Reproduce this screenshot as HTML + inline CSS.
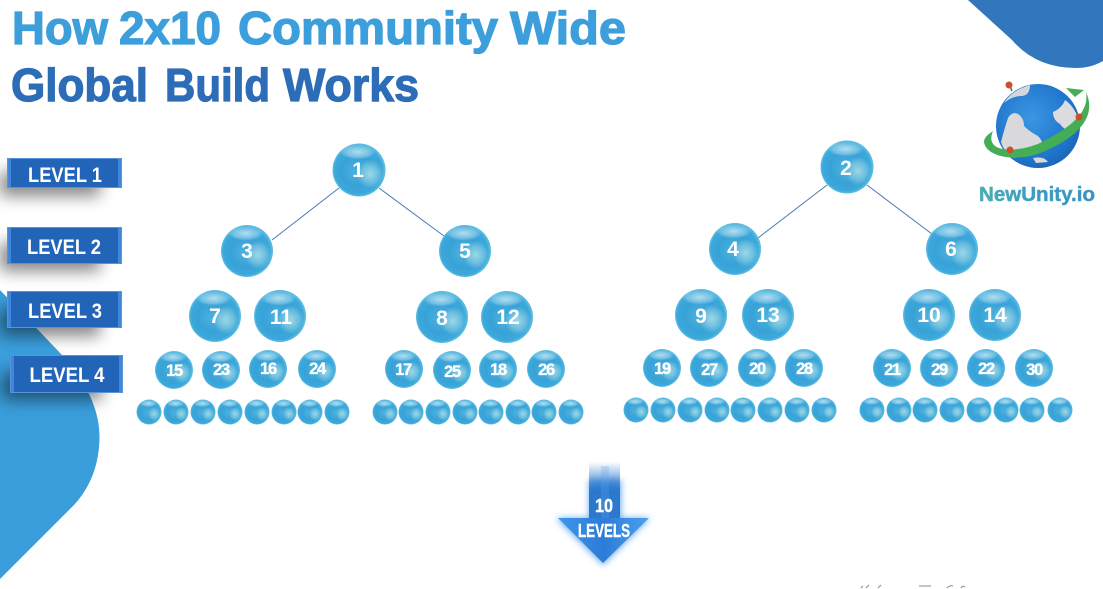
<!DOCTYPE html>
<html><head><meta charset="utf-8"><style>
html,body{margin:0;padding:0;background:#fff;width:1103px;height:589px;overflow:hidden}
svg{display:block}
text{font-family:"Liberation Sans",sans-serif}
.n{fill:#fff;font-weight:bold;text-anchor:middle}
.b{font-size:21px}.m{font-size:16.500px;letter-spacing:-1.300px;stroke:#fff;stroke-width:.3px}
.l{fill:#fff;font-weight:bold;font-size:21px;text-anchor:middle}
.t{font-size:46px;font-weight:bold;stroke-width:1.200px}
.t1{fill:#3c9fdc;stroke:#3c9fdc}.t2{fill:#2d6db8;stroke:#2d6db8}
</style></head><body>
<svg width="1103" height="589" viewBox="0 0 1103 589" xmlns="http://www.w3.org/2000/svg">
<defs>
<radialGradient id="s" cx=".5" cy=".5" r=".52" fx=".42" fy=".55">
<stop offset="0" stop-color="#4bb0de"/><stop offset=".55" stop-color="#38a2d7"/><stop offset=".86" stop-color="#3ba8da"/><stop offset=".95" stop-color="#5fbde3"/><stop offset="1" stop-color="#3397cc"/></radialGradient>
<radialGradient id="t" cx=".5" cy=".5" r=".5"><stop offset="0" stop-color="#d8f1f7" stop-opacity=".75"/><stop offset=".7" stop-color="#d8f1f7" stop-opacity=".35"/><stop offset="1" stop-color="#d8f1f7" stop-opacity="0"/></radialGradient>
<radialGradient id="h" cx=".5" cy=".5" r=".5"><stop offset="0" stop-color="#a8dde7" stop-opacity=".9"/><stop offset=".6" stop-color="#a8dde7" stop-opacity=".45"/><stop offset="1" stop-color="#a8dde7" stop-opacity="0"/></radialGradient>
<g id="ball"><circle r="1" fill="url(#s)"/><ellipse cx=".42" cy=".15" rx=".5" ry=".55" fill="url(#h)"/><ellipse cx="-.05" cy="-.68" rx=".68" ry=".28" fill="url(#t)"/></g>
<filter id="bl" x="-30%" y="-60%" width="160%" height="220%"><feGaussianBlur stdDeviation="8"/></filter>
<filter id="b2" x="-50%" y="-20%" width="200%" height="140%"><feGaussianBlur stdDeviation="3.500"/></filter>
<linearGradient id="sh" x1="0" y1="0" x2="0" y2="1"><stop offset="0" stop-color="#2c78cd" stop-opacity="0"/><stop offset=".5" stop-color="#2c78cd"/><stop offset="1" stop-color="#2c78cd"/></linearGradient>
<linearGradient id="ah" x1="0" y1="0" x2="1" y2="0"><stop offset="0" stop-color="#3e98ea"/><stop offset=".5" stop-color="#2c7cd8"/><stop offset="1" stop-color="#4ba2ec"/></linearGradient>
<radialGradient id="gl" cx=".42" cy=".4" r=".7"><stop offset="0" stop-color="#3b96e2"/><stop offset=".7" stop-color="#1f74cc"/><stop offset="1" stop-color="#1a5fb0"/></radialGradient>
<linearGradient id="lg" x1="0" y1="0" x2="1" y2="0"><stop offset="0" stop-color="#48b2a9"/><stop offset=".5" stop-color="#3b9bc9"/><stop offset="1" stop-color="#3a8fc8"/></linearGradient>
</defs>

<!-- background shapes -->
<path d="M0 290 L62 355 Q99 396 99.500 436 Q99.500 477 74 505 L0 579 Z" fill="#3a9edb"/>
<path d="M968 0 L1012 40 Q1036 68 1076 68 Q1091 68 1103 61 L1103 0 Z" fill="#3277bd"/>

<!-- title -->
<g class="t">
<text class="t t1" x="12" y="44" textLength="96" lengthAdjust="spacingAndGlyphs">How</text>
<text class="t t1" x="119" y="44" textLength="102" lengthAdjust="spacingAndGlyphs">2x10</text>
<text class="t t1" x="238" y="44" textLength="260" lengthAdjust="spacingAndGlyphs">Community</text>
<text class="t t1" x="510" y="44" textLength="116" lengthAdjust="spacingAndGlyphs">Wide</text>
<text class="t t2" x="11" y="101" textLength="137" lengthAdjust="spacingAndGlyphs">Global</text>
<text class="t t2" x="165" y="101" textLength="105" lengthAdjust="spacingAndGlyphs">Build</text>
<text class="t t2" x="283" y="101" textLength="136" lengthAdjust="spacingAndGlyphs">Works</text>
</g>

<!-- level shadows -->
<g fill="#000" opacity=".48" filter="url(#bl)">
<rect x="0" y="172" width="100" height="24"/>
<rect x="0" y="243" width="100" height="28"/>
<rect x="0" y="308" width="100" height="28"/>
<rect x="2" y="372" width="100" height="28"/>
</g>

<!-- level labels -->
<g fill="#2264b8" stroke="#5a93d6" stroke-width="1">
<rect x="7.500" y="158.500" width="114" height="29"/>
<rect x="7.500" y="227.500" width="114" height="36"/>
<rect x="7.500" y="291.500" width="114" height="36"/>
<rect x="10.500" y="355.500" width="112" height="37"/>
</g>
<g fill="#3f86dc">
<rect x="8" y="159" width="3" height="28"/><rect x="118" y="159" width="3" height="28"/>
<rect x="8" y="228" width="3" height="35"/><rect x="118" y="228" width="3" height="35"/>
<rect x="8" y="292" width="3" height="35"/><rect x="118" y="292" width="3" height="35"/>
<rect x="11" y="356" width="3" height="36"/><rect x="119" y="356" width="3" height="36"/>
</g>
<text class="l" x="65" y="182" textLength="74" lengthAdjust="spacingAndGlyphs">LEVEL 1</text>
<text class="l" x="64" y="254" textLength="74" lengthAdjust="spacingAndGlyphs">LEVEL 2</text>
<text class="l" x="65" y="318" textLength="74" lengthAdjust="spacingAndGlyphs">LEVEL 3</text>
<text class="l" x="67" y="382" textLength="75" lengthAdjust="spacingAndGlyphs">LEVEL 4</text>

<!-- connectors -->
<g stroke="#4a78b8" stroke-width="1" fill="none">
<line x1="339" y1="188" x2="272" y2="240"/>
<line x1="379" y1="188" x2="444" y2="236"/>
<line x1="827" y1="185" x2="758" y2="238"/>
<line x1="867" y1="185" x2="932" y2="234"/>
</g>

<!-- big spheres -->
<use href="#ball" transform="translate(359 170) scale(26.500)"/>
<use href="#ball" transform="translate(847 167) scale(26.500)"/>
<use href="#ball" transform="translate(247 251) scale(26)"/>
<use href="#ball" transform="translate(465 251) scale(26)"/>
<use href="#ball" transform="translate(735 249) scale(26)"/>
<use href="#ball" transform="translate(952 249) scale(26)"/>
<use href="#ball" transform="translate(215 316) scale(26)"/>
<use href="#ball" transform="translate(280 316) scale(26)"/>
<use href="#ball" transform="translate(442 317) scale(26)"/>
<use href="#ball" transform="translate(507 317) scale(26)"/>
<use href="#ball" transform="translate(701 315) scale(26)"/>
<use href="#ball" transform="translate(768 315) scale(26)"/>
<use href="#ball" transform="translate(929 315) scale(26)"/>
<use href="#ball" transform="translate(995 315) scale(26)"/>

<!-- medium spheres -->
<use href="#ball" transform="translate(174 370) scale(19)"/>
<use href="#ball" transform="translate(221 370) scale(19)"/>
<use href="#ball" transform="translate(268 369) scale(19)"/>
<use href="#ball" transform="translate(317 369) scale(19)"/>
<use href="#ball" transform="translate(404 369) scale(19)"/>
<use href="#ball" transform="translate(452 370) scale(19)"/>
<use href="#ball" transform="translate(498 369) scale(19)"/>
<use href="#ball" transform="translate(546 369) scale(19)"/>
<use href="#ball" transform="translate(662 368) scale(19)"/>
<use href="#ball" transform="translate(709 368) scale(19)"/>
<use href="#ball" transform="translate(757 368) scale(19)"/>
<use href="#ball" transform="translate(804 368) scale(19)"/>
<use href="#ball" transform="translate(892 368) scale(19)"/>
<use href="#ball" transform="translate(939 368) scale(19)"/>
<use href="#ball" transform="translate(986 368) scale(19)"/>
<use href="#ball" transform="translate(1034 368) scale(19)"/>

<!-- small spheres -->
<use href="#ball" transform="translate(149 412) scale(12.500)"/>
<use href="#ball" transform="translate(176 412) scale(12.500)"/>
<use href="#ball" transform="translate(203 412) scale(12.500)"/>
<use href="#ball" transform="translate(230 412) scale(12.500)"/>
<use href="#ball" transform="translate(257 412) scale(12.500)"/>
<use href="#ball" transform="translate(284 412) scale(12.500)"/>
<use href="#ball" transform="translate(310 412) scale(12.500)"/>
<use href="#ball" transform="translate(337 412) scale(12.500)"/>
<use href="#ball" transform="translate(385 412) scale(12.500)"/>
<use href="#ball" transform="translate(411 412) scale(12.500)"/>
<use href="#ball" transform="translate(438 412) scale(12.500)"/>
<use href="#ball" transform="translate(465 412) scale(12.500)"/>
<use href="#ball" transform="translate(491 412) scale(12.500)"/>
<use href="#ball" transform="translate(518 412) scale(12.500)"/>
<use href="#ball" transform="translate(544 412) scale(12.500)"/>
<use href="#ball" transform="translate(571 412) scale(12.500)"/>
<use href="#ball" transform="translate(636 410) scale(12.500)"/>
<use href="#ball" transform="translate(663 410) scale(12.500)"/>
<use href="#ball" transform="translate(690 410) scale(12.500)"/>
<use href="#ball" transform="translate(717 410) scale(12.500)"/>
<use href="#ball" transform="translate(743 410) scale(12.500)"/>
<use href="#ball" transform="translate(770 410) scale(12.500)"/>
<use href="#ball" transform="translate(797 410) scale(12.500)"/>
<use href="#ball" transform="translate(824 410) scale(12.500)"/>
<use href="#ball" transform="translate(872 410) scale(12.500)"/>
<use href="#ball" transform="translate(899 410) scale(12.500)"/>
<use href="#ball" transform="translate(925 410) scale(12.500)"/>
<use href="#ball" transform="translate(952 410) scale(12.500)"/>
<use href="#ball" transform="translate(979 410) scale(12.500)"/>
<use href="#ball" transform="translate(1006 410) scale(12.500)"/>
<use href="#ball" transform="translate(1032 410) scale(12.500)"/>
<use href="#ball" transform="translate(1060 410) scale(12.500)"/>

<!-- big labels -->
<text class="n b" x="358" y="177">1</text>
<text class="n b" x="846" y="175">2</text>
<text class="n b" x="247" y="258">3</text>
<text class="n b" x="465" y="258">5</text>
<text class="n b" x="733" y="256">4</text>
<text class="n b" x="951" y="256">6</text>
<text class="n b" x="215" y="323">7</text>
<text class="n b" x="281" y="324">11</text>
<text class="n b" x="442" y="325">8</text>
<text class="n b" x="508" y="324">12</text>
<text class="n b" x="701" y="323">9</text>
<text class="n b" x="768" y="322">13</text>
<text class="n b" x="929" y="322">10</text>
<text class="n b" x="995" y="322">14</text>
<!-- medium labels -->
<text class="n m" x="174" y="376">15</text>
<text class="n m" x="221" y="375">23</text>
<text class="n m" x="268" y="374">16</text>
<text class="n m" x="317" y="374">24</text>
<text class="n m" x="403" y="375">17</text>
<text class="n m" x="452" y="377">25</text>
<text class="n m" x="498" y="375">18</text>
<text class="n m" x="546" y="375">26</text>
<text class="n m" x="662" y="374">19</text>
<text class="n m" x="709" y="375">27</text>
<text class="n m" x="757" y="374">20</text>
<text class="n m" x="804" y="374">28</text>
<text class="n m" x="892" y="375">21</text>
<text class="n m" x="939" y="375">29</text>
<text class="n m" x="986" y="374">22</text>
<text class="n m" x="1034" y="375">30</text>

<!-- arrow -->
<path d="M589 480 H621 V518 H650 L603 565 L556 518 H589 Z" fill="#4f9cf0" opacity=".85" filter="url(#b2)"/>
<rect x="589" y="462" width="31" height="57" fill="url(#sh)"/>
<rect x="601" y="466" width="8" height="53" fill="#5ba3e8" opacity=".25"/>
<path d="M558 518 H649 L603 563 Z" fill="url(#ah)"/>
<text x="604" y="512" fill="#fff" stroke="#fff" stroke-width=".4" font-size="18" font-weight="bold" text-anchor="middle" textLength="18" lengthAdjust="spacingAndGlyphs">10</text>
<text x="604" y="537" fill="#fff" stroke="#fff" stroke-width=".4" font-size="18" font-weight="bold" text-anchor="middle" textLength="52" lengthAdjust="spacingAndGlyphs">LEVELS</text>

<!-- globe logo -->
<circle cx="1038" cy="126" r="42" fill="url(#gl)"/>
<path d="M1008 118 Q1012 111 1018 114 Q1024 118 1024 126 Q1030 132 1038 136 Q1044 142 1042 148 Q1030 150 1024 149 Q1020 156 1014 158 Q1004 152 1001 142 Q1004 130 1008 118Z" fill="#d9d9dc"/>
<path d="M1053 112 Q1062 108 1065 100 Q1074 106 1079 120 Q1078 130 1074 134 Q1064 130 1060 124 Q1053 120 1053 112Z" fill="#dcdcde"/>
<path d="M1004 103 Q1012 90 1030 85 Q1030 95 1022 96 Q1012 96 1004 103Z" fill="#d6d6da"/>
<path d="M1033 158 Q1044 156 1048 162 L1036 163 Z" fill="#d9d9dc"/>
<path d="M1010 86 L1012 91" stroke="#3c7a5a" stroke-width="1.500"/>
<path d="M984 142 C986 158 1020 163 1045 151 C1075 138 1098 118 1086 92 C1090 115 1065 130 1040 143 C1020 152 983 155 993 131 C987 135 984 138 984 142 Z" fill="#44ad55"/>
<path d="M1066 88 L1084 90 L1075 97 Z" fill="#44ad55"/>
<circle cx="1009" cy="85" r="3.500" fill="#c9502b"/>
<circle cx="1079" cy="117" r="3.500" fill="#c9502b"/>
<circle cx="1010" cy="150" r="3.500" fill="#c9502b"/>
<text x="1037" y="201" font-size="20" font-weight="bold" fill="url(#lg)" stroke="#48a4bf" stroke-width=".5" text-anchor="middle" textLength="116" lengthAdjust="spacingAndGlyphs">NewUnity.io</text>

<!-- clipped bottom text -->
<g stroke="#555" stroke-width="1" fill="none" opacity=".7">
<path d="M861 588 L863 586 M866 588 L869 585 M878 588 L881 585 M919 586 H931 M947 588 Q950 585 953 586 M961 588 Q963 585 965 587"/>
</g>
</svg>
</body></html>
